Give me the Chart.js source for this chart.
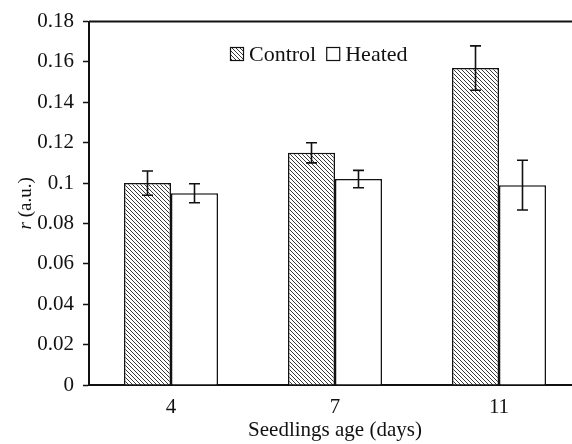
<!DOCTYPE html>
<html>
<head>
<meta charset="utf-8">
<script src="https://cdn.jsdelivr.net/npm/chart.js@4"></script>
<style>
  html, body { margin: 0; padding: 0; background: #fff; overflow: hidden; }
  #wrap { width: 600px; height: 444px; }
</style>
</head>
<body>
<div id="wrap"><canvas id="chart"></canvas></div>
<script>
// values
var ages = ['4', '7', '11'];
var seriesNames = ['Control', 'Heated'];
var controlVals = [0.100, 0.115, 0.157];
var controlErr = [0.006, 0.005, 0.011];
var heatedVals = [0.095, 0.102, 0.099];
var heatedErr = [0.0047, 0.0043, 0.0123];

var FONT = "'Liberation Serif', 'Times New Roman', serif";
var INK = '#111';

function hatch() {
  var c = document.createElement('canvas');
  c.width = 4; c.height = 4;
  var g = c.getContext('2d');
  g.fillStyle = '#fff';
  g.fillRect(0, 0, 4, 4);
  g.strokeStyle = '#3a3a3a';
  g.lineWidth = 1;
  g.beginPath();
  g.moveTo(-1, -1); g.lineTo(5, 5);
  g.moveTo(-1, 3); g.lineTo(1, 5);
  g.moveTo(3, -1); g.lineTo(5, 1);
  g.stroke();
  return g.createPattern(c, 'repeat');
}

// error bars, drawn through the y scale
var errorBars = {
  id: 'errorBars',
  afterDatasetsDraw: function (chart) {
    var ctx = chart.ctx;
    var y = chart.scales.y;
    ctx.save();
    ctx.strokeStyle = INK;
    ctx.lineWidth = 1.6;
    chart.data.datasets.forEach(function (ds, di) {
      var meta = chart.getDatasetMeta(di);
      meta.data.forEach(function (bar, i) {
        var v = ds.data[i], e = ds.errors[i];
        var top = y.getPixelForValue(v + e);
        var bot = y.getPixelForValue(v - e);
        ctx.beginPath();
        ctx.moveTo(bar.x, top); ctx.lineTo(bar.x, bot);
        ctx.moveTo(bar.x - 5.5, top); ctx.lineTo(bar.x + 5.5, top);
        ctx.moveTo(bar.x - 5.5, bot); ctx.lineTo(bar.x + 5.5, bot);
        ctx.stroke();
      });
    });
    ctx.restore();
  }
};

// frame round the plot, legend inside the plot, y title with italic r
var frameLegend = {
  id: 'frameLegend',
  afterDraw: function (chart) {
    var ctx = chart.ctx;
    var a = chart.chartArea;
    ctx.save();
    ctx.strokeStyle = INK;
    ctx.lineWidth = 2;
    ctx.beginPath();
    ctx.moveTo(a.left, a.top); ctx.lineTo(a.right, a.top); ctx.lineTo(a.right, a.bottom);
    ctx.stroke();

    ctx.font = '22px ' + FONT;
    ctx.textBaseline = 'alphabetic';
    var x = 230, boxTop = 47, box = 14;
    chart.data.datasets.forEach(function (ds) {
      ctx.fillStyle = ds.backgroundColor;
      ctx.fillRect(x, boxTop, box, box);
      ctx.lineWidth = 1.2;
      ctx.strokeStyle = INK;
      ctx.strokeRect(x + 0.5, boxTop + 0.5, box - 1, box - 1);
      ctx.fillStyle = INK;
      ctx.fillText(ds.label, x + box + 5, 61);
      x += box + 5 + ctx.measureText(ds.label).width + 10;
    });

    // y axis title
    var cy = (a.top + a.bottom) / 2;
    ctx.translate(31, cy);
    ctx.rotate(-Math.PI / 2);
    ctx.fillStyle = INK;
    ctx.font = 'italic 19px ' + FONT;
    var w1 = ctx.measureText('r').width;
    ctx.font = '19px ' + FONT;
    var w2 = ctx.measureText(' (a.u.)').width;
    var sx = -(w1 + w2) / 2;
    ctx.font = 'italic 19px ' + FONT;
    ctx.fillText('r', sx, 0);
    ctx.font = '19px ' + FONT;
    ctx.fillText(' (a.u.)', sx + w1, 0);
    ctx.restore();
  }
};

window.addEventListener('load', function () {
  new Chart(document.getElementById('chart'), {
    type: 'bar',
    data: {
      labels: ages,
      datasets: [
        {
          label: seriesNames[0],
          data: controlVals,
          errors: controlErr,
          backgroundColor: hatch(),
          borderColor: INK,
          borderWidth: 1.5
        },
        {
          label: seriesNames[1],
          data: heatedVals,
          errors: heatedErr,
          backgroundColor: '#fff',
          borderColor: INK,
          borderWidth: 1.5
        }
      ]
    },
    plugins: [errorBars, frameLegend],
    options: {
      responsive: true,
      maintainAspectRatio: false,
      animation: false,
      layout: { padding: { top: 19, right: 19, left: 0, bottom: 0 } },
      plugins: {
        legend: { display: false },
        tooltip: { enabled: false }
      },
      datasets: {
        bar: { categoryPercentage: 0.573, barPercentage: 1 }
      },
      scales: {
        x: {
          grid: { display: false, drawTicks: false },
          border: { display: true, color: INK, width: 2 },
          ticks: { color: INK, font: { family: FONT, size: 21 }, padding: 10 },
          title: {
            display: true,
            text: 'Seedlings age (days)',
            color: INK,
            font: { family: FONT, size: 21 },
            padding: { top: 0, bottom: 1 }
          },
          afterFit: function (s) { s.height = 59; }
        },
        y: {
          min: 0,
          max: 0.18,
          grid: { drawOnChartArea: false, drawTicks: true, tickLength: 6, tickColor: INK, tickWidth: 1.5 },
          border: { display: true, color: INK, width: 2 },
          ticks: {
            stepSize: 0.02,
            color: INK,
            padding: 9,
            font: { family: FONT, size: 21 },
            callback: function (v) { return String(+v.toFixed(2)); }
          },
          afterFit: function (s) { s.width = 89; }
        }
      }
    }
  });
});
</script>
</body>
</html>
